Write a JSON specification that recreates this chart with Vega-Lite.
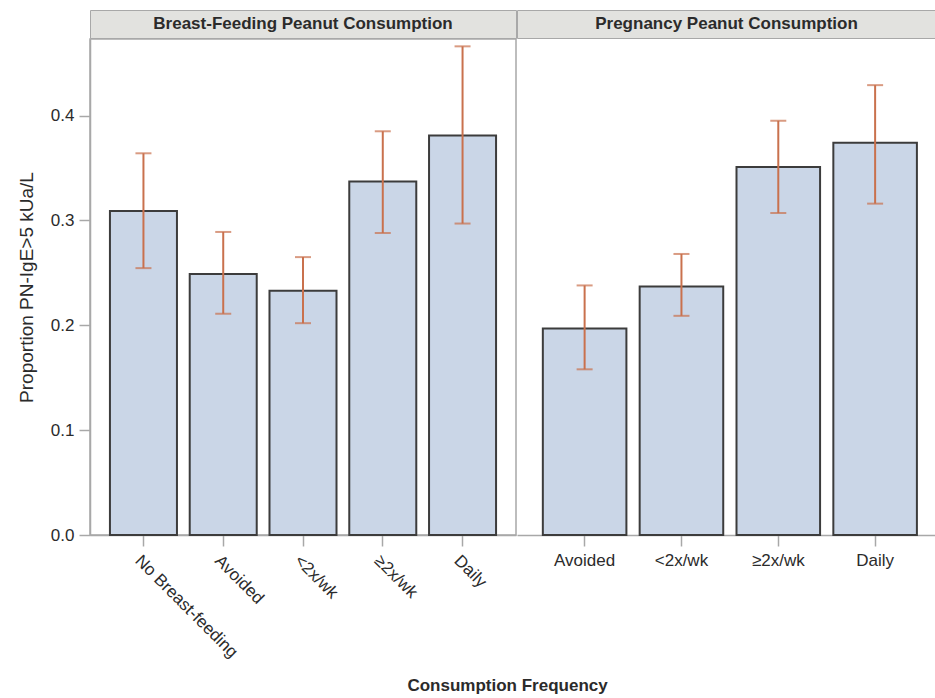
{
  "$schema": "https://vega.github.io/schema/vega-lite/v6.json",
  "background": "white",
  "padding": {"left": 16, "top": 9, "right": 0, "bottom": 2},
  "spacing": -1,
  "config": {
    "font": "Liberation Sans",
    "view": {"stroke": "#a8a8a8", "strokeWidth": 1.5},
    "axis": {
      "labelFont": "Liberation Sans",
      "titleFont": "Liberation Sans",
      "labelFontSize": 17,
      "labelColor": "#2b2b2b",
      "domainColor": "#a8a8a8",
      "domainWidth": 1.5,
      "tickColor": "#a8a8a8",
      "tickWidth": 1.5,
      "tickSize": 11,
      "grid": false
    }
  },
  "datasets": {
    "bf": [
      {"cat": "No Breast-feeding", "p": 0.309, "lo": 0.2545, "hi": 0.364},
      {"cat": "Avoided", "p": 0.249, "lo": 0.211, "hi": 0.289},
      {"cat": "<2x/wk", "p": 0.233, "lo": 0.202, "hi": 0.265},
      {"cat": "≥2x/wk", "p": 0.337, "lo": 0.288, "hi": 0.385},
      {"cat": "Daily", "p": 0.381, "lo": 0.297, "hi": 0.466}
    ],
    "preg": [
      {"cat": "Avoided", "p": 0.197, "lo": 0.158, "hi": 0.238},
      {"cat": "<2x/wk", "p": 0.237, "lo": 0.209, "hi": 0.268},
      {"cat": "≥2x/wk", "p": 0.351, "lo": 0.307, "hi": 0.395},
      {"cat": "Daily", "p": 0.374, "lo": 0.316, "hi": 0.429}
    ],
    "hdrL": [{"t": "Breast-Feeding Peanut Consumption"}],
    "hdrR": [{"t": "Pregnancy Peanut Consumption"}]
  },
  "title": {
    "text": "Consumption Frequency",
    "orient": "bottom",
    "anchor": "middle",
    "font": "Liberation Sans",
    "fontSize": 17,
    "fontWeight": "bold",
    "color": "#2b2b2b",
    "offset": 17,
    "dx": 31
  },
  "hconcat": [
    {
      "spacing": -1,
      "vconcat": [
        {
          "width": 426,
          "height": 28,
          "data": {"name": "hdrL"},
          "view": {"fill": "#e2e2df", "stroke": "#a8a8a8"},
          "mark": {"type": "text", "font": "Liberation Sans", "fontSize": 17, "fontWeight": "bold", "color": "#2b2b2b", "baseline": "middle"},
          "encoding": {"text": {"field": "t", "type": "nominal"}}
        },
        {
          "width": 426,
          "height": 496,
          "data": {"name": "bf"},
          "encoding": {
            "x": {
              "field": "cat",
              "type": "nominal",
              "sort": null,
              "scale": {"paddingInner": 0.16, "paddingOuter": 0.25},
              "axis": {"title": null, "labelAngle": 45, "labelPadding": 6}
            }
          },
          "layer": [
            {
              "mark": {"type": "bar", "fill": "#cad6e7", "stroke": "#3c3c3c", "strokeWidth": 2},
              "encoding": {
                "y": {
                  "field": "p",
                  "type": "quantitative",
                  "title": "Proportion PN-IgE>5 kUa/L",
                  "scale": {"domain": [0, 0.473], "nice": false, "zero": true},
                  "axis": {
                    "values": [0, 0.1, 0.2, 0.3, 0.4],
                    "format": ".1f",
                    "labelPadding": 5,
                    "titleFontSize": 19,
                    "titleFontWeight": "normal",
                    "titleColor": "#2b2b2b",
                    "titlePadding": 14
                  }
                }
              }
            },
            {
              "mark": {"type": "rule", "color": "#c9714d", "strokeWidth": 2},
              "encoding": {
                "y": {"field": "lo", "type": "quantitative", "title": "Proportion PN-IgE>5 kUa/L"},
                "y2": {"field": "hi"}
              }
            },
            {
              "mark": {"type": "tick", "color": "#c9714d", "size": 16, "thickness": 2},
              "encoding": {"y": {"field": "lo", "type": "quantitative", "title": "Proportion PN-IgE>5 kUa/L"}}
            },
            {
              "mark": {"type": "tick", "color": "#c9714d", "size": 16, "thickness": 2},
              "encoding": {"y": {"field": "hi", "type": "quantitative", "title": "Proportion PN-IgE>5 kUa/L"}}
            }
          ]
        }
      ]
    },
    {
      "spacing": -1,
      "vconcat": [
        {
          "width": 419,
          "height": 28,
          "data": {"name": "hdrR"},
          "view": {"fill": "#e2e2df", "stroke": "#a8a8a8"},
          "mark": {"type": "text", "font": "Liberation Sans", "fontSize": 17, "fontWeight": "bold", "color": "#2b2b2b", "baseline": "middle"},
          "encoding": {"text": {"field": "t", "type": "nominal"}}
        },
        {
          "width": 419,
          "height": 496,
          "data": {"name": "preg"},
          "view": {"stroke": null},
          "encoding": {
            "x": {
              "field": "cat",
              "type": "nominal",
              "sort": null,
              "scale": {"paddingInner": 0.137, "paddingOuter": 0.232, "align": 0.575},
              "axis": {"title": null, "labelAngle": 0, "labelPadding": 6}
            }
          },
          "layer": [
            {
              "mark": {"type": "bar", "fill": "#cad6e7", "stroke": "#3c3c3c", "strokeWidth": 2},
              "encoding": {
                "y": {
                  "field": "p",
                  "type": "quantitative",
                  "scale": {"domain": [0, 0.473], "nice": false, "zero": true},
                  "axis": null
                }
              }
            },
            {
              "mark": {"type": "rule", "color": "#c9714d", "strokeWidth": 2},
              "encoding": {
                "y": {"field": "lo", "type": "quantitative", "axis": null},
                "y2": {"field": "hi"}
              }
            },
            {
              "mark": {"type": "tick", "color": "#c9714d", "size": 16, "thickness": 2},
              "encoding": {"y": {"field": "lo", "type": "quantitative", "axis": null}}
            },
            {
              "mark": {"type": "tick", "color": "#c9714d", "size": 16, "thickness": 2},
              "encoding": {"y": {"field": "hi", "type": "quantitative", "axis": null}}
            }
          ]
        }
      ]
    }
  ]
}
